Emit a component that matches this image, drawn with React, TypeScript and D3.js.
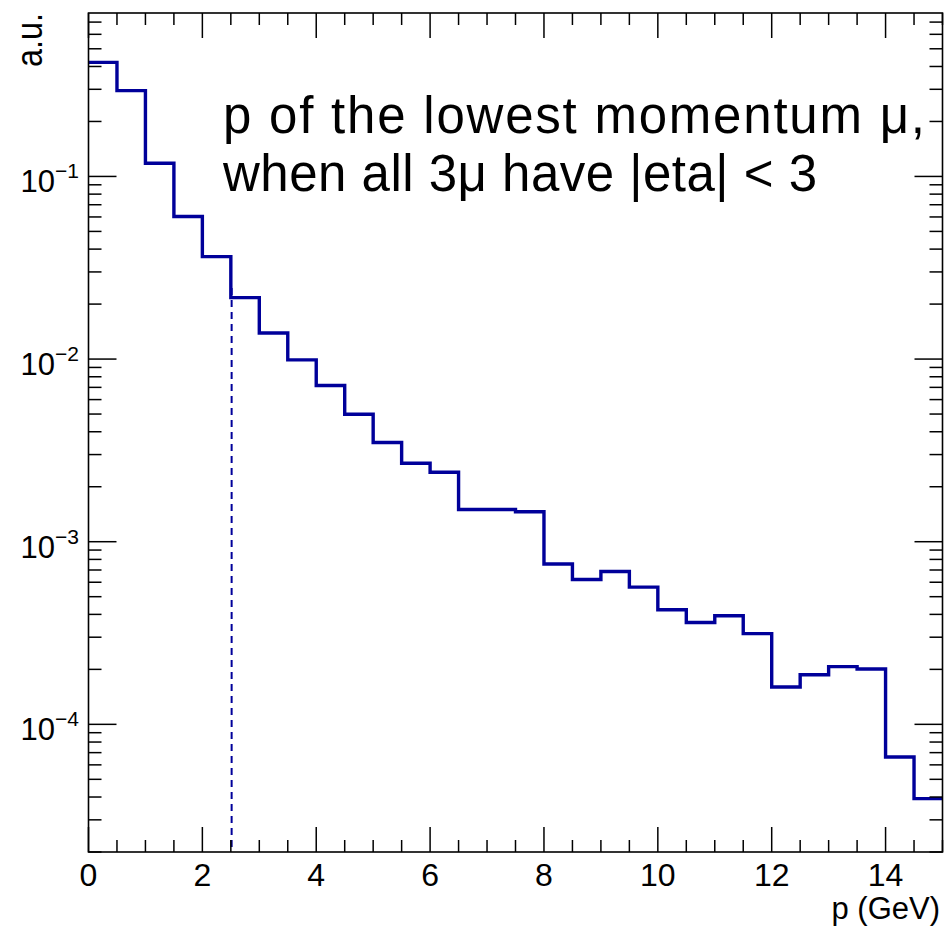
import React from "react";
import * as d3 from "d3";

// ---- data ----
const binEdges: number[] = [0, 0.5, 1, 1.5, 2, 2.5, 3, 3.5, 4, 4.5, 5, 5.5, 6, 6.5, 7, 7.5, 8, 8.5, 9, 9.5, 10, 10.5, 11, 11.5, 12, 12.5, 13, 13.5, 14, 14.5, 15];
const binValues: number[] = [
  0.421, 0.295, 0.118, 0.0603, 0.0364, 0.0217, 0.0139, 0.0099, 0.00716, 0.00499,
  0.00349, 0.00269, 0.0024, 0.0015, 0.0015, 0.00146, 0.000755, 0.000621, 0.000687, 0.000564,
  0.000424, 0.000361, 0.000393, 0.000314, 0.00016, 0.000187, 0.000207, 0.000201, 0.0000662, 0.0000392,
];
const xTickLabels: number[] = [0, 2, 4, 6, 8, 10, 12, 14];
const yDecades: number[] = [-1, -2, -3, -4];
const cutX = 2.5;
const cutTop = 0.0245;
const titleLines: string[] = ["p of the lowest momentum μ,", "when all 3μ have |eta| < 3"];
const xTitle = "p (GeV)";
const yTitle = "a.u.";

const W = 946;
const H = 927;
const left = 88.5;
const right = 942.5;
const top = 13;
const bottom = 852;
const FONT = "'Liberation Sans', Arial, Helvetica, sans-serif";
const HIST = "#00009a";

export default function App() {
  const x = d3.scaleLinear().domain([0, 15]).range([left, right]);
  const y = d3.scaleLog().domain([2e-5, 0.785]).range([bottom, top]);

  const stepData: [number, number][] = [];
  binValues.forEach((v, i) => {
    stepData.push([binEdges[i], v]);
    stepData.push([binEdges[i + 1], v]);
  });
  const line = d3
    .line<[number, number]>()
    .x((d) => x(d[0]))
    .y((d) => y(d[1]));

  const xMinor = d3.range(0, 15.001, 0.5);
  const yMinor: number[] = [];
  for (let e = -5; e <= 0; e++) {
    for (let m = 1; m <= 9; m++) {
      const v = m * Math.pow(10, e);
      if (v >= 2e-5 * 0.999 && v <= 0.785) yMinor.push(v);
    }
  }

  return (
    <svg width={W} height={H} style={{ position: "absolute", left: 0, top: 0, background: "#fff" }}>
      <rect x={0} y={0} width={W} height={H} fill="#fff" />
      {/* histogram */}
      <path d={line(stepData) || ""} fill="none" stroke={HIST} strokeWidth={3.4} strokeLinejoin="miter" />
      {/* cut line */}
      <line x1={x(cutX) + 0.8} x2={x(cutX) + 0.8} y1={y(cutTop)} y2={bottom} stroke={HIST} strokeWidth={2} strokeDasharray="7,5" />
      {/* x ticks */}
      {xMinor.map((t, i) => {
        const major = Math.abs(t % 2) < 1e-6;
        const len = major ? 25 : 12;
        return (
          <g key={"xt" + i} stroke="#000" strokeWidth={1.5}>
            <line x1={x(t)} x2={x(t)} y1={bottom} y2={bottom - len} />
            <line x1={x(t)} x2={x(t)} y1={top} y2={top + len} />
          </g>
        );
      })}
      {/* y ticks */}
      {yMinor.map((v, i) => {
        const major = Math.abs(Math.log10(v) - Math.round(Math.log10(v))) < 1e-6;
        const len = major ? 28 : 13;
        return (
          <g key={"yt" + i} stroke="#000" strokeWidth={1.5}>
            <line x1={left} x2={left + len} y1={y(v)} y2={y(v)} />
            <line x1={right} x2={right - len} y1={y(v)} y2={y(v)} />
          </g>
        );
      })}
      {/* frame */}
      <rect x={left} y={top} width={right - left} height={bottom - top} fill="none" stroke="#000" strokeWidth={1.6} />
      {/* x tick labels */}
      {xTickLabels.map((t) => (
        <text key={"xl" + t} x={x(t)} y={886} textAnchor="middle" fontFamily={FONT} fontSize={32} fill="#000">
          {t}
        </text>
      ))}
      {/* y tick labels */}
      {yDecades.map((e) => (
        <text key={"yl" + e} x={79} y={y(Math.pow(10, e)) + 16} textAnchor="end" fontFamily={FONT} fontSize={31} fill="#000">
          10
          <tspan dy={-14} fontSize={21}>{"\u2212" + Math.abs(e)}</tspan>
        </text>
      ))}
      {/* axis titles */}
      <text x={940} y={919} textAnchor="end" fontFamily={FONT} fontSize={31} fill="#000">
        {xTitle}
      </text>
      <text transform={`translate(42, ${top}) rotate(-90)`} textAnchor="end" fontFamily={FONT} fontSize={36} fill="#000" textLength={54} lengthAdjust="spacingAndGlyphs">
        {yTitle}
      </text>
      {/* annotation */}
      <text x={223} y={133} fontFamily={FONT} fontSize={51} fill="#000" textLength={702} lengthAdjust="spacing">
        {titleLines[0]}
      </text>
      <text x={223} y={191} fontFamily={FONT} fontSize={51} fill="#000" textLength={594} lengthAdjust="spacing">
        {titleLines[1]}
      </text>
    </svg>
  );
}
